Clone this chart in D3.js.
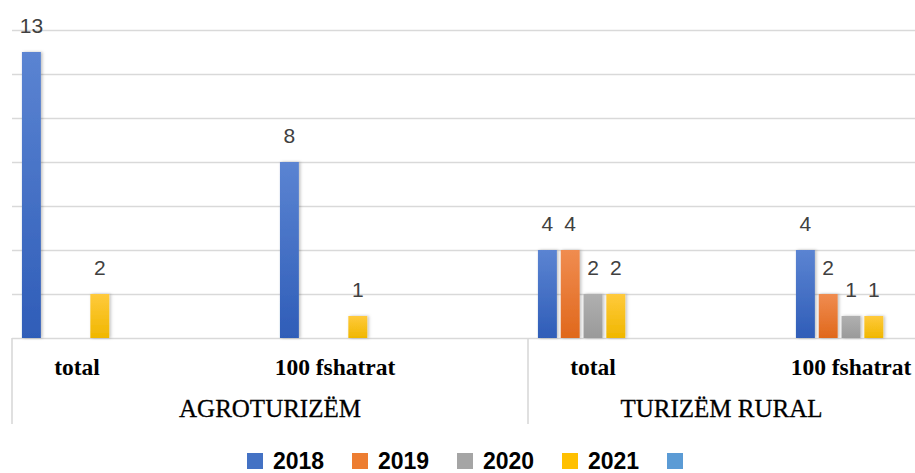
<!DOCTYPE html>
<html>
<head>
<meta charset="utf-8">
<script src="https://cdn.jsdelivr.net/npm/d3@7"></script>
<style>
  body { margin: 0; background: #fff; }
  svg { display: block; }
</style>
</head>
<body>
<script>
	// data
	var series = ["2018", "2019", "2020", "2021", ""];
	var innerCats = ["total", "100 fshatrat", "total", "100 fshatrat"];
	var outerCats = ["AGROTURIZËM", "TURIZËM RURAL"];
	var v2018 = [13, 8, 4, 4];
	var v2019 = [null, null, 4, 2];
	var v2020 = [null, null, 2, 1];
	var v2021 = [2, 1, 2, 1];
	var vBlank = [null, null, null, null];
	var yTicks = [0, 2, 4, 6, 8, 10, 12, 14];

	var values = [v2018, v2019, v2020, v2021, vBlank];
	var colors = ["#4472C4", "#ED7D31", "#A5A5A5", "#FFC000", "#5B9BD5"];
	var tops = ["#5b84d2", "#f08c50", "#b0b0b0", "#ffca3c", "#6fa8dc"];
	var bottoms = ["#2f5db8", "#e0681c", "#9a9a9a", "#f0b700", "#4a8ac8"];

	var W = 915, H = 473;
	var plotLeft = 12, plotRight = W, baseY = 338;

	var svg = d3.select("body").append("svg")
		.attr("width", W)
		.attr("height", H)

	var defs = svg.append("defs");
	series.forEach(function(s, i){
		var g = defs.append("linearGradient")
			.attr("id", "grad" + i)
			.attr("x1", 0).attr("y1", 0).attr("x2", 0).attr("y2", 1);
		g.append("stop").attr("offset", "0%").attr("stop-color", tops[i]);
		g.append("stop").attr("offset", "100%").attr("stop-color", bottoms[i]);
	});
	var shadow = defs.append("filter").attr("id", "shadow")
		.attr("x", "-30%").attr("y", "-10%").attr("width", "160%").attr("height", "120%");
	shadow.append("feDropShadow")
		.attr("dx", 1.5).attr("dy", 0).attr("stdDeviation", 1.5)
		.attr("flood-color", "#000").attr("flood-opacity", 0.25);

	var yScale = d3.scaleLinear()
		.domain([0, 14])
		.range([baseY, 30])

	// inner categories (label centres 77, 335, 593, 851)
	var x0 = d3.scaleBand()
		.domain(d3.range(innerCats.length))
		.range([-52, 980])

	var x1 = d3.scaleBand()
		.domain(series)
		.range([-57, 57])
		.paddingInner(0.17)
		.paddingOuter(0.085)

	// gridlines
	svg.append("g")
		.attr("transform", "translate(" + plotLeft + ",0)")
		.call(d3.axisLeft(yScale).tickValues(yTicks).tickSize(-(plotRight - plotLeft)).tickFormat(""))
		.call(g => g.select(".domain").remove())
		.call(g => g.selectAll("line").attr("stroke", "#d9d9d9").attr("stroke-width", 1.6));

	// category axis frame
	var axisLines = [plotLeft, 528];
	svg.selectAll(".sep")
		.data(axisLines)
		.enter()
		.append("line")
		.attr("x1", d => d).attr("x2", d => d)
		.attr("y1", baseY).attr("y2", 424)
		.attr("stroke", "#d9d9d9")
		.attr("stroke-width", 1.6)

	// bars
	var flat = [];
	values.forEach(function(arr, si){
		arr.forEach(function(v, ci){
			if (v != null) flat.push({s: si, c: ci, v: v});
		});
	});

	svg.append("g").selectAll("rect")
		.data(flat)
		.enter()
		.append("rect")
		.attr("x", d => x0(d.c) + x0.bandwidth() / 2 + x1(series[d.s]))
		.attr("y", d => yScale(d.v))
		.attr("width", x1.bandwidth())
		.attr("height", d => yScale(0) - yScale(d.v))
		.attr("fill", d => "url(#grad" + d.s + ")")
		.attr("filter", "url(#shadow)")

	// data labels
	svg.append("g").selectAll("text")
		.data(flat)
		.enter()
		.append("text")
		.attr("x", d => x0(d.c) + x0.bandwidth() / 2 + x1(series[d.s]) + x1.bandwidth() / 2)
		.attr("y", d => yScale(d.v) - 19)
		.attr("text-anchor", "middle")
		.style("font-family", "'Liberation Sans', Arial, sans-serif")
		.style("font-size", "21px")
		.style("fill", "#404040")
		.text(d => d.v);

	// inner category labels
	svg.append("g").selectAll("text")
		.data(innerCats)
		.enter()
		.append("text")
		.attr("x", (d, i) => Math.min(x0(i) + x0.bandwidth() / 2, 851))
		.attr("y", 375)
		.attr("text-anchor", "middle")
		.style("font-family", "'Liberation Serif', 'Times New Roman', serif")
		.style("font-weight", "bold")
		.style("font-size", "23.5px")
		.style("fill", "#000")
		.text(d => d);

	// outer category labels, centred in the visible part of each group
	var outerSpan = [[plotLeft, 528], [528, W]];
	svg.append("g").selectAll("text")
		.data(outerCats)
		.enter()
		.append("text")
		.attr("x", (d, i) => (outerSpan[i][0] + outerSpan[i][1]) / 2)
		.attr("y", 417)
		.attr("text-anchor", "middle")
		.style("font-family", "'Liberation Serif', 'Times New Roman', serif")
		.style("font-size", "25px")
		.style("fill", "#000")
		.style("stroke", "#000")
		.style("stroke-width", 0.3)
		.text(d => d);

	// legend
	var legendX = d3.scalePoint()
		.domain(series)
		.range([247, 667])

	var legend = svg.append("g");
	series.forEach(function(s, i){
		var row = legend.append("g")
			.attr("transform", "translate(" + legendX(s) + ",453)");
		row.append("rect")
			.attr("width", 16)
			.attr("height", 16)
			.attr("fill", colors[i]);
		row.append("text")
			.attr("x", 26)
			.attr("y", 15.5)
			.style("font-family", "'Liberation Sans', Arial, sans-serif")
			.style("font-weight", "bold")
			.style("font-size", "23px")
			.style("fill", "#000")
			.text(s);
	});
</script>
</body>
</html>
